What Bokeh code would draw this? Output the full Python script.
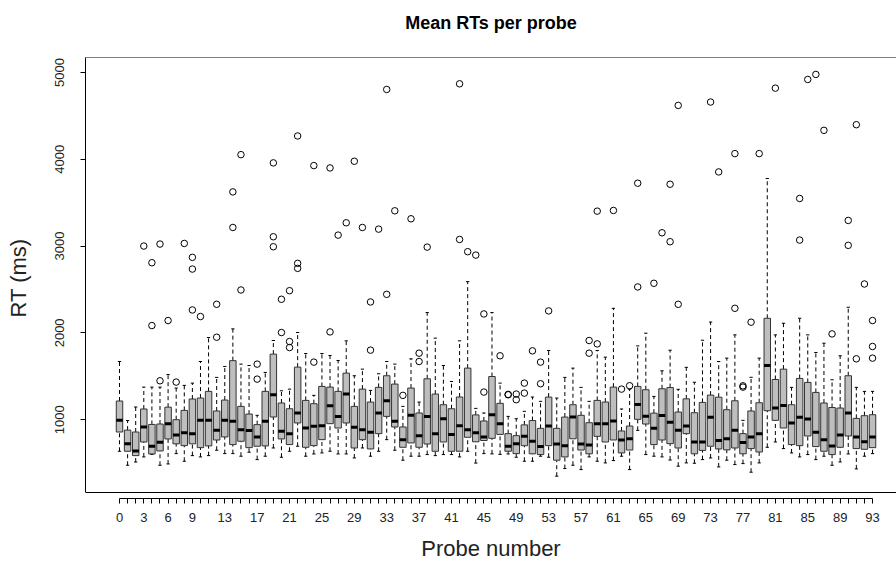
import numpy as np
from bokeh.plotting import figure
from bokeh.models import Range1d, FixedTicker, Span, Title
from bokeh.embed import file_html
from bokeh.resources import INLINE

# ---------------- data ----------------
probes = list(range(94))
x_tick_labels = [0, 3, 6, 9, 13, 17, 21, 25, 29, 33, 37, 41, 45, 49, 53, 57, 61,
                 65, 69, 73, 77, 81, 85, 89, 93]
y_ticks = [1000, 2000, 3000, 4000, 5000]

lower_whisker = [636, 475, 512, 571, 600, 475, 490, 609, 521, 586, 571, 586, 648, 609, 609, 579,
                 625, 540, 579, 674, 567, 636, 694, 579, 605, 617, 636, 605, 605, 559, 674, 579,
                 636, 770, 648, 533, 579, 579, 598, 586, 598, 598, 571, 636, 500, 609, 606, 600,
                 605, 567, 521, 521, 579, 567, 349, 437, 475, 425, 571, 521, 502, 529, 579, 425,
                 877, 598, 579, 571, 535, 464, 502, 498, 540, 559, 456, 533, 483, 494, 395, 502,
                 682, 743, 667, 617, 571, 598, 540, 579, 475, 513, 605, 433, 579, 609]
q1 = [858, 636, 586, 743, 605, 640, 778, 722, 701, 722, 678, 698, 766, 801, 713, 751,
      678, 694, 698, 1031, 778, 713, 962, 682, 701, 770, 954, 904, 962, 674, 770, 663,
      839, 1038, 916, 682, 732, 682, 720, 636, 743, 636, 636, 797, 745, 760, 785, 830,
      636, 609, 700, 607, 598, 701, 533, 571, 780, 650, 607, 808, 743, 766, 617, 650,
      1004, 950, 713, 766, 724, 674, 839, 607, 646, 694, 663, 652, 674, 607, 667, 628,
      1103, 992, 904, 713, 701, 812, 690, 636, 598, 682, 812, 667, 659, 678]
median = [992, 724, 640, 916, 694, 740, 952, 824, 850, 839, 992, 992, 877, 992, 981, 885,
          875, 801, 981, 1287, 866, 839, 1077, 904, 923, 931, 1161, 1038, 1295, 912, 885, 854,
          1077, 1218, 981, 770, 1050, 816, 1038, 839, 1011, 828, 931, 885, 850, 800, 1057, 954,
          694, 724, 808, 751, 690, 927, 720, 701, 1031, 720, 707, 952, 952, 985, 766, 780,
          1176, 1040, 900, 1048, 971, 877, 927, 743, 743, 1027, 759, 780, 877, 736, 801, 837,
          1624, 1134, 1163, 962, 1027, 1008, 854, 770, 698, 824, 1077, 801, 747, 801]
q3 = [1215, 880, 858, 1123, 945, 950, 1144, 1000, 1107, 1238, 1249, 1326, 1100, 1226, 1680, 1153,
      1065, 943, 1326, 1755, 1192, 1126, 1605, 1222, 1184, 1383, 1375, 1326, 1536, 1153, 1352, 1203,
      1372, 1506, 1410, 916, 1364, 1077, 1471, 1295, 1172, 1126, 1261, 1594, 1055, 985, 1497, 1188,
      839, 816, 940, 990, 900, 1260, 900, 1030, 1172, 1050, 965, 1222, 1203, 1375, 870, 927,
      1383, 1345, 1075, 1356, 1370, 1088, 1240, 1080, 1199, 1283, 1259, 1115, 1218, 839, 1100, 1195,
      2168, 1463, 1582, 1172, 1475, 1429, 1314, 1192, 1140, 1134, 1506, 1015, 1046, 1057]
upper_whisker = [1670, 990, 1146, 1375, 1375, 1375, 1520, 1364, 1395, 1421, 1670, 1946, 1487, 1613, 2046, 1640,
                 1624, 1050, 1544, 1912, 1333, 1352, 2004, 1762, 1280, 1762, 1739, 1682, 1908, 1506, 1582, 1337,
                 1529, 1670, 1640, 1153, 1701, 1203, 2234, 1939, 1624, 1440, 1908, 2590, 1130, 1077, 2234, 1421,
                 1038, 1011, 1096, 1261, 1211, 1797, 1249, 1487, 1594, 1372, 1211, 1797, 1720, 2283, 1123, 1352,
                 1850, 1996, 1268, 1563, 1800, 1350, 1603, 1431, 1915, 2125, 1670, 1709, 1977, 992, 1488, 1709,
                 3778, 1977, 2111, 1372, 2168, 1977, 1774, 1881, 1460, 1736, 2295, 1372, 1326, 1326]

outlier_probe = [3, 4, 4, 5, 5, 6, 7, 8, 9, 9, 9, 10, 12, 12, 14, 14, 15, 15, 17, 17,
                 19, 19, 19, 20, 20, 21, 21, 21, 22, 22, 22, 24, 24, 26, 26, 27, 28, 29, 30,
                 31, 31, 32, 33, 33, 34, 35, 36, 37, 37, 38, 42, 42, 43, 44, 45, 45, 47,
                 48, 48, 49, 49, 50, 50, 51, 52, 52, 53, 58, 58, 59, 59, 61, 62, 63,
                 64, 64, 66, 67, 68, 68, 69, 69, 73, 74, 76, 76, 77, 77, 78, 79, 81,
                 84, 84, 85, 86, 87, 88, 90, 90, 91, 91, 92, 93, 93, 93]
outlier_rt = [3000, 2808, 2084, 3023, 1448, 2142, 1433, 3030, 2870, 2735, 2264, 2188, 2329, 1950,
              3624, 3214, 4053, 2494, 1640, 1467,
              3958, 3107, 2992, 2387, 2004, 2486, 1900, 1831, 4268, 2801, 2743, 3927, 1663, 3900, 2011,
              3126, 3268, 3977, 3214,
              2356, 1801, 3195, 4804, 2444, 3406, 1280, 3314, 1766, 1670, 2988, 4869, 3076, 2935, 2896,
              2218, 1318, 1736,
              1291, 1287, 1295, 1230, 1421, 1306, 1793, 1663, 1414, 2253, 1912, 1766, 3402, 1873, 3410,
              1352, 1391,
              3724, 2529, 2571, 3153, 3712, 3050, 4620, 2329, 4659, 3854, 4065, 2283, 1390, 1375, 2123,
              4065, 4819,
              3548, 3069, 4919, 4977, 4333, 1988, 3295, 3008, 4398, 1701, 2563, 2142, 1843, 1709]

# ---------------- figure ----------------
FONT = "Liberation Sans"
px = np.array(probes, dtype=float)
half_box = 0.4
half_staple = 0.2

p = figure(width=896, height=563, output_backend="svg", toolbar_location=None,
           x_range=Range1d(-4.2, 95.96), y_range=Range1d(92, 5172),
           min_border_left=85, min_border_right=0, min_border_top=57, min_border_bottom=64,
           background_fill_color="white", border_fill_color="white")
p.outline_line_color = None
p.xgrid.visible = False
p.ygrid.visible = False

# spacer between the frame and the title (title is stacked outside the "above" panels)
p.add_layout(Title(text=" ", text_font_size="1px", standoff=22), "above")

p.title.text = "Mean RTs per probe"
p.title.align = "center"
p.title.text_font = FONT
p.title.text_font_size = "18px"
p.title.text_font_style = "bold"
p.title.text_color = "black"
p.title.standoff = 0

# box frame (top and bottom lines; left is the y axis line)
p.add_layout(Span(location=5172, dimension="width", line_color="black", line_width=1))
p.add_layout(Span(location=161, dimension="width", line_color="black", line_width=1))

# whiskers
p.segment(x0=px, y0=q3, x1=px, y1=upper_whisker, line_color="black", line_width=1, line_dash="4 3")
p.segment(x0=px, y0=lower_whisker, x1=px, y1=q1, line_color="black", line_width=1, line_dash="4 3")
# staples
p.segment(x0=px - half_staple, y0=upper_whisker, x1=px + half_staple, y1=upper_whisker,
          line_color="black", line_width=1)
p.segment(x0=px - half_staple, y0=lower_whisker, x1=px + half_staple, y1=lower_whisker,
          line_color="black", line_width=1)
# boxes
p.vbar(x=px, width=2 * half_box, bottom=q1, top=q3, fill_color="#BEBEBE",
       line_color="#333333", line_width=1)
# medians
p.segment(x0=px - half_box, y0=median, x1=px + half_box, y1=median,
          line_color="black", line_width=3, line_cap="butt")
# outliers
p.scatter(x=outlier_probe, y=outlier_rt, marker="circle", size=6.5,
          fill_color=None, line_color="black", line_width=1)

# x axis
xa = p.xaxis[0]
xa.ticker = FixedTicker(ticks=probes)
xa.major_label_overrides = {i: (str(i) if i in x_tick_labels else "") for i in probes}
xa.bounds = (0, 93)
xa.minor_tick_line_color = None
xa.major_tick_in = 0
xa.major_tick_out = 5
xa.axis_line_color = "black"
xa.major_tick_line_color = "black"
xa.major_label_text_font = FONT
xa.major_label_text_font_size = "13px"
xa.major_label_text_color = "#222222"
xa.major_label_standoff = 9
xa.axis_label = "Probe number"
xa.axis_label_text_font = FONT
xa.axis_label_text_font_size = "22px"
xa.axis_label_text_font_style = "normal"
xa.axis_label_text_color = "#222222"
xa.axis_label_standoff = 11

# y axis
ya = p.yaxis[0]
ya.ticker = FixedTicker(ticks=y_ticks)
ya.bounds = (161, 5172)
ya.minor_tick_line_color = None
ya.major_tick_in = 0
ya.major_tick_out = 5
ya.axis_line_color = "black"
ya.major_tick_line_color = "black"
ya.major_label_orientation = "vertical"
ya.major_label_text_font = FONT
ya.major_label_text_font_size = "13px"
ya.major_label_text_color = "#222222"
ya.major_label_standoff = 16
ya.axis_label = "RT (ms)"
ya.axis_label_text_font = FONT
ya.axis_label_text_font_size = "22px"
ya.axis_label_text_font_style = "normal"
ya.axis_label_text_color = "#222222"
ya.axis_label_standoff = 22

open("out.html", "w").write(file_html(p, INLINE))
